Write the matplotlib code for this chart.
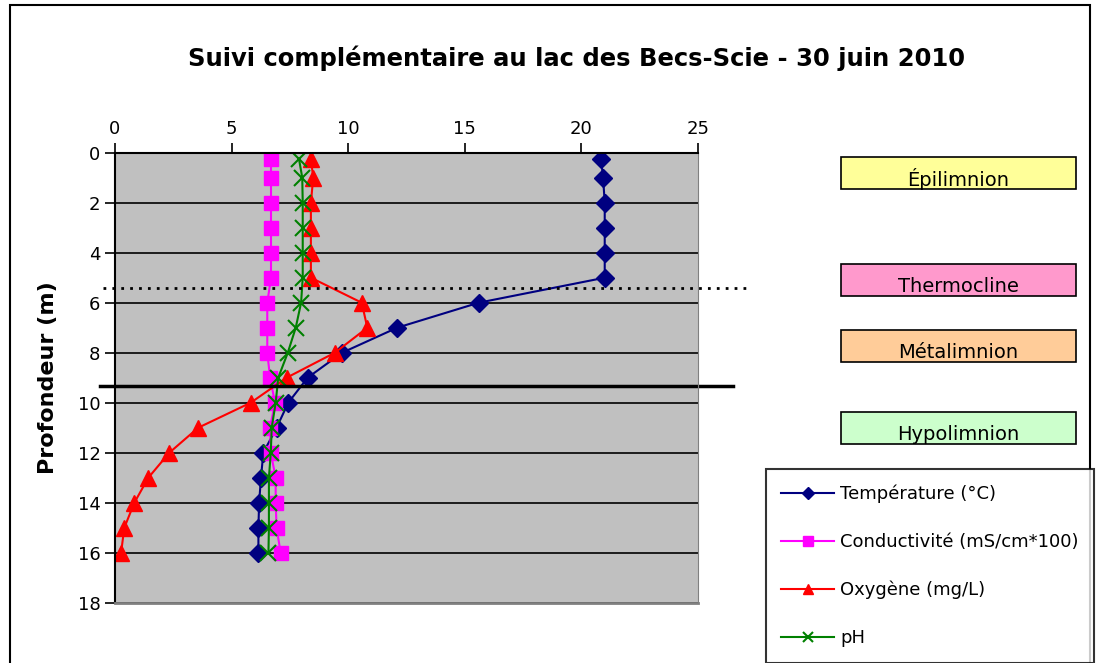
import matplotlib
matplotlib.use("Agg")
import matplotlib.pyplot as plt
from matplotlib.patches import Rectangle

plt.rcParams['font.family'] = ['DejaVu Sans']

depth = [0.25, 1, 2, 3, 4, 5, 6, 7, 8, 9, 10, 11, 12, 13, 14, 15, 16]
temperature = [20.84, 20.93, 21.0, 21.0, 21.0, 21.0, 15.6, 12.1, 9.74, 8.26, 7.43, 6.93, 6.36, 6.26, 6.18, 6.15, 6.15]
conductivity = [6.69, 6.69, 6.69, 6.69, 6.69, 6.69, 6.53, 6.53, 6.53, 6.65, 6.86, 6.65, 6.68, 6.89, 6.89, 6.93, 7.1]
oxygen = [8.4, 8.5, 8.4, 8.4, 8.4, 8.4, 10.58, 10.82, 9.43, 7.36, 5.82, 3.57, 2.33, 1.43, 0.83, 0.40, 0.26]
ph = [7.89, 8.03, 8.05, 8.05, 8.05, 8.05, 7.98, 7.75, 7.41, 7.0, 6.89, 6.72, 6.68, 6.6, 6.6, 6.6, 6.58]

thermocline_depth = 5.4
metalimnion_bottom = 9.35

zones = ['Épilimnion', 'Thermocline', 'Métalimnion', 'Hypolimnion']
zone_colors = ['#FFFF99', '#FF99CC', '#FFCC99', '#CCFFCC']

W, H = 1099, 663
fig = plt.figure(figsize=(W / 100, H / 100), dpi=100)

# outer chart frame
fig.patches.append(Rectangle((10 / W, -0.05), 1080 / W, 1 - 5 / H + 0.05,
                             transform=fig.transFigure, fill=False,
                             edgecolor='black', linewidth=1.5))

ax = fig.add_axes([115 / W, 1 - 602.7 / H, 583 / W, 450 / H])
ax.set_facecolor('#C0C0C0')

ax.plot(temperature, depth, color='#000080', marker='D', markersize=9,
        linewidth=1.5, label='Température (°C)')
ax.plot(conductivity, depth, color='#FF00FF', marker='s', markersize=10,
        linewidth=1.5, label='Conductivité (mS/cm*100)')
ax.plot(oxygen, depth, color='#FF0000', marker='^', markersize=11,
        linewidth=1.5, label='Oxygène (mg/L)')
ax.plot(ph, depth, color='#008000', marker='x', markersize=11,
        markeredgewidth=1.5, linewidth=1.5, label='pH')

ax.set_xlim(0, 25)
ax.set_ylim(18, 0)
ax.set_xticks(range(0, 26, 5))
ax.set_yticks(range(0, 19, 2))
ax.xaxis.tick_top()
ax.tick_params(axis='both', labelsize=13, length=7, width=1.2, direction='out')
ax.yaxis.grid(True, color='black', linewidth=1.2)
ax.set_axisbelow(True)
ax.spines['top'].set_linewidth(1.5)
ax.spines['left'].set_linewidth(1.5)
ax.spines['right'].set_color('#808080')
ax.spines['bottom'].set_color('#808080')
ax.spines['bottom'].set_linewidth(2)

ax.set_ylabel('Profondeur (m)', fontsize=16, fontweight='bold', labelpad=14)

# zone boundaries, drawn past the plot area
ax.plot([-0.5, 27.1], [thermocline_depth, thermocline_depth], color='black',
        linestyle=(0, (1, 2.2)), linewidth=2, clip_on=False)
ax.plot([-0.65, 26.5], [metalimnion_bottom, metalimnion_bottom], color='black',
        linewidth=2.5, clip_on=False)

fig.text(577 / W, 1 - 58 / H, 'Suivi complémentaire au lac des Becs-Scie - 30 juin 2010',
         ha='center', va='center', fontsize=17.5, fontweight='bold')

# zone label boxes
box_tops = [157, 264, 330, 412]
for name, color, top in zip(zones, zone_colors, box_tops):
    fig.patches.append(Rectangle((841 / W, 1 - (top + 32) / H), 235 / W, 32 / H,
                                 transform=fig.transFigure, facecolor=color,
                                 edgecolor='black', linewidth=1.2))
    fig.text(958 / W, 1 - (top + 22) / H, name, ha='center', va='center',
             fontsize=14)

leg = fig.legend(loc='upper left', bbox_to_anchor=(766 / W, 1 - 469 / H),
                 fontsize=13, frameon=True, fancybox=False, edgecolor='black',
                 handlelength=2.9, labelspacing=1.66, markerscale=0.7,
                 borderpad=0.85, handletextpad=0.35, borderaxespad=0)
leg.get_frame().set_linewidth(1.5)

fig.savefig('out.png', dpi=100)
